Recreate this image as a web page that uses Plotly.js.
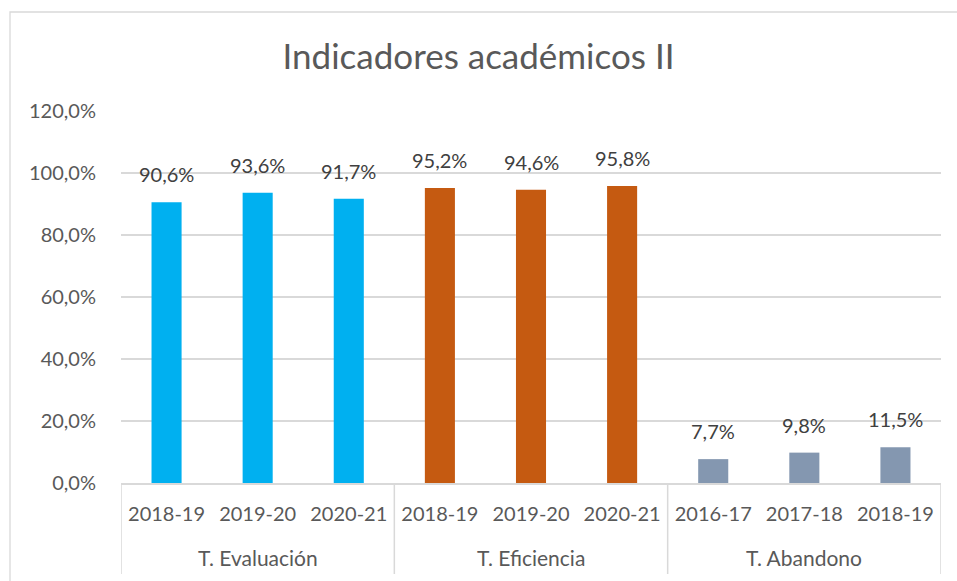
<!DOCTYPE html>
<html><head><meta charset="utf-8">
<script src="https://cdn.plot.ly/plotly-3.0.1.min.js"></script>
<style>body{margin:0;background:#fff}#chart{width:957px;height:581px}</style>
</head><body><div id="chart"></div>
<script>
const groups = ["T. Evaluación","T. Evaluación","T. Evaluación","T. Eficiencia","T. Eficiencia","T. Eficiencia","T. Abandono","T. Abandono","T. Abandono"];
const years = ["2018-19","2019-20","2020-21","2018-19","2019-20","2020-21","2016-17","2017-18","2018-19"];
const values = [0.906,0.936,0.917,0.952,0.946,0.958,0.077,0.098,0.115];
const colors = ["#00B0F0","#00B0F0","#00B0F0","#C55A11","#C55A11","#C55A11","#8497B0","#8497B0","#8497B0"];
const yTicks = [0,0.2,0.4,0.6,0.8,1.0,1.2];

const font = "Lato, 'Open Sans', sans-serif";
const idx = years.map((_, i) => i);

// group spans computed from the groups array
const spans = [];
groups.forEach((g, i) => {
  const last = spans[spans.length - 1];
  if (last && last.name === g) last.end = i; else spans.push({name: g, start: i, end: i});
});

const trace = {
  type: "bar",
  x: idx,
  y: values,
  marker: {color: colors},
  width: 0.33,
  hoverinfo: "none"
};
const L = 121, R = 941, W = 957, H = 581, T = 111, B = 483;
const pw = R - L, ph = B - T;
const py = v => (B - v) / ph; // pixel y -> paper y

const shapes = [{
  type: "rect", xref: "paper", yref: "paper",
  x0: (10 - L) / pw, x1: (965 - L) / pw, y0: py(12), y1: py(595),
  line: {color: "#D9D9D9", width: 1.3}, fillcolor: "rgba(0,0,0,0)", layer: "below"
}];
const bounds = [spans[0].start - 0.5].concat(spans.map(s => s.end + 0.5));
bounds.forEach(b => shapes.push({
  type: "line", xref: "x", yref: "paper", x0: b, x1: b, y0: 0, y1: py(574),
  line: {color: "#D9D9D9", width: 1.5}
}));
const fmt = v => (v * 100).toFixed(1).replace(".", ",") + "%";
const annotations = spans.map(s => ({
  xref: "x", yref: "paper", x: (s.start + s.end) / 2, y: py(557),
  yanchor: "middle", xanchor: "center", showarrow: false,
  text: s.name, font: {family: font, size: 21, color: "#595959"}
})).concat(values.map((v, i) => ({
  xref: "x", yref: "y", x: idx[i], y: v, yanchor: "bottom", xanchor: "center",
  yshift: 14, showarrow: false, text: fmt(v),
  font: {family: font, size: 20, color: "#404040"}
})));

const layout = {
  width: W, height: H,
  margin: {l: L, r: W - R, t: T, b: H - B},
  paper_bgcolor: "#fff", plot_bgcolor: "#fff",
  separators: ",.",
  font: {family: font, color: "#595959", size: 20},
  title: {text: "Indicadores académicos II", font: {family: font, size: 35, color: "#595959"}, x: 0.5, xanchor: "center", y: 1 - 57/H, yanchor: "middle"},
  showlegend: false,
  xaxis: {
    range: [-0.5, years.length - 0.5],
    tickvals: idx, ticktext: years,
    showline: true, linecolor: "#D9D9D9", linewidth: 1.5,
    ticks: "outside", ticklen: 12, tickcolor: "rgba(0,0,0,0)",
    tickfont: {family: font, size: 20, color: "#595959"},
    showgrid: false, zeroline: false, fixedrange: true
  },
  yaxis: {
    range: [0, 1.2],
    tickvals: yTicks,
    tickformat: ".1%",
    gridcolor: "#D9D9D9", gridwidth: 1.3,
    zeroline: false, showline: false,
    ticks: "outside", ticklen: 20, tickcolor: "rgba(0,0,0,0)",
    tickfont: {family: font, size: 20, color: "#595959"}
  },
  shapes: shapes,
  annotations: annotations
};
Plotly.newPlot("chart", [trace], layout, {staticPlot: true});
</script></body></html>
